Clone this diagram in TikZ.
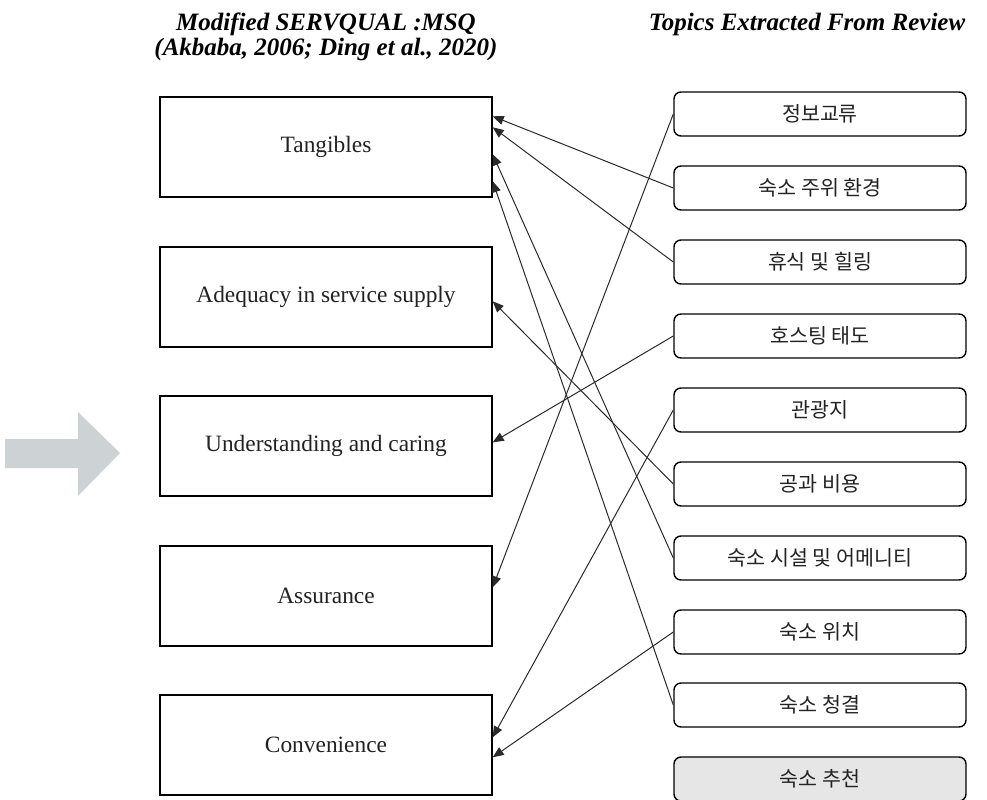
\documentclass[tikz,border=0pt]{standalone}
\usepackage{fontspec}
\setmainfont{Liberation Serif}
\newfontfamily\krfont{Noto Sans CJK KR}
\usetikzlibrary{arrows.meta,calc}
\definecolor{arrowgray}{HTML}{CDD3D5}
\definecolor{recgray}{HTML}{E6E6E6}
\definecolor{linegray}{HTML}{2A2A2A}
\definecolor{txtgray}{HTML}{222222}
\tikzset{
  msq/.style={draw=black,line width=1.4bp,minimum width=332bp,minimum height=100bp,inner sep=0pt,
    text=txtgray,font=\fontsize{23.4bp}{28bp}\selectfont},
  topic/.style={draw=black,line width=1.4bp,rounded corners=7bp,minimum width=292bp,minimum height=44bp,inner sep=0pt,
    text=txtgray,font=\krfont\fontsize{20.6bp}{24bp}\selectfont},
  conn/.style={draw=linegray,line width=1bp,-{Triangle[length=11bp,width=9bp]}},
  head/.style={font=\bfseries\itshape\fontsize{25bp}{24.5bp}\selectfont,align=center,inner sep=0pt,anchor=base}
}
\begin{document}
\begin{tikzpicture}[x=1bp,y=-1bp]
\useasboundingbox (0,0) rectangle (987,800);
% titles
\node[head] (h1) at (326,31) {Modified SERVQUAL :MSQ};
\node[head] (h1b) at (326,55.5) {(Akbaba, 2006; Ding et al., 2020)};
\node[head] (h2) at (807,31) {Topics Extracted From Review};
% big gray arrow
\fill[arrowgray] (5,439) -- (78,439) -- (78,412) -- (120,453) -- (78,496) -- (78,468) -- (5,468) -- cycle;
% left boxes
\node[msq] (tang) at (326,147) {Tangibles};
\node[msq] (adeq) at (326,297) {Adequacy in service supply};
\node[msq] (unde) at (326,446) {Understanding and caring};
\node[msq] (assu) at (326,596) {Assurance};
\node[msq] (conv) at (326,745) {Convenience};
% right boxes
\node[topic] (r1) at (820,114) {정보교류};
\node[topic] (r2) at (820,188) {숙소 주위 환경};
\node[topic] (r3) at (820,262) {휴식 및 힐링};
\node[topic] (r4) at (820,336) {호스팅 태도};
\node[topic] (r5) at (820,410) {관광지};
\node[topic] (r6) at (820,484) {공과 비용};
\node[topic] (r7) at (820,558) {숙소 시설 및 어메니티};
\node[topic] (r8) at (820,632) {숙소 위치};
\node[topic] (r9) at (820,705) {숙소 청결};
\node[topic,fill=recgray] (r10) at (820,779) {숙소 추천};
% anchor points on left boxes
\coordinate (t1) at ($(tang.north east)+(0,20)$);
\coordinate (t2) at ($(tang.north east)+(0,31)$);
\coordinate (t3) at ($(tang.north east)+(0,58)$);
\coordinate (t4) at ($(tang.north east)+(0,85)$);
\coordinate (a1) at ($(adeq.north east)+(0,55)$);
\coordinate (u1) at ($(unde.north east)+(0,47)$);
\coordinate (s1) at ($(assu.north east)+(0,42)$);
\coordinate (c1) at ($(conv.north east)+(0,43)$);
\coordinate (c2) at ($(conv.north east)+(0,63)$);
% connectors
\draw[conn] (r2.west) -- (t1);
\draw[conn] (r3.west) -- (t2);
\draw[conn] (r7.west) -- (t3);
\draw[conn] (r9.west) -- (t4);
\draw[conn] (r6.west) -- (a1);
\draw[conn] (r4.west) -- (u1);
\draw[conn] (r1.west) -- (s1);
\draw[conn] (r5.west) -- (c1);
\draw[conn] (r8.west) -- (c2);
\end{tikzpicture}
\end{document}
